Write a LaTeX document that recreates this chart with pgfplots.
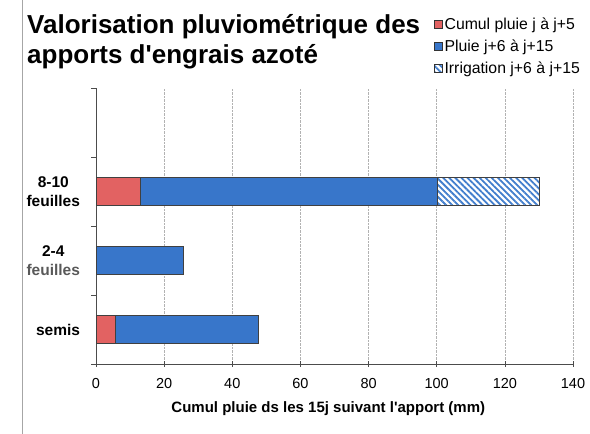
\documentclass[border=0pt]{standalone}
\usepackage{fontspec}
\setmainfont{Liberation Sans}
\usepackage{pgfplots}
\pgfplotsset{compat=1.18}
\usetikzlibrary{patterns.meta}

\definecolor{cumulred}{RGB}{226,98,98}
\definecolor{pluieblue}{RGB}{56,118,202}
\definecolor{irrigblue}{RGB}{66,126,205}

\begin{document}
\begin{tikzpicture}
\useasboundingbox (0,0) rectangle (590bp,434bp);
\draw[gray!70, line width=0.8bp] (22bp,0) -- (22bp,434bp);
\node[anchor=base west, inner sep=0pt,
      font=\bfseries\fontsize{26bp}{32bp}\selectfont] at (27bp,400bp)
  {Valorisation pluviométrique des};
\node[anchor=base west, inner sep=0pt,
      font=\bfseries\fontsize{26bp}{32bp}\selectfont] at (27bp,370bp)
  {apports d\textquotesingle engrais azoté};
\begin{axis}[
    at={(96bp,70bp)}, anchor=south west,
    scale only axis,
    width=477bp, height=276bp,
    xbar stacked,
    bar width=28bp,
    xmin=0, xmax=140,
    ymin=-0.5, ymax=3.5,
    xtick={0,20,...,140},
    ytick={-0.5,0.5,1.5,2.5,3.5},
    yticklabels={},
    extra y ticks={0,1,2},
    extra y tick labels={semis,{2-4\\\textcolor{black!65}{feuilles}},{8-10\\feuilles}},
    extra y tick style={tick style={draw=none},
        yticklabel style={align=center, font=\bfseries\fontsize{15.5bp}{19bp}\selectfont, xshift=-10bp}},
    axis x line*=bottom,
    axis y line*=left,
    axis line style={black!70, line width=0.6bp},
    tick style={black!70, line width=0.6bp},
    y tick style={xshift=-2.5bp},
    major tick length=5bp,
    tick align=center,
    xmajorgrids,
    grid style={black!30, densely dotted, line width=0.5bp},
    /pgf/number format/assume math mode=true,
    xticklabel style={font=\fontsize{14.5bp}{17bp}\selectfont, yshift=-8bp},
    xlabel={Cumul pluie ds les 15j suivant l\textquotesingle apport (mm)},
    xlabel style={font=\bfseries\fontsize{15bp}{17bp}\selectfont,
        at={(axis description cs:0.487,-0.1775)}, anchor=base},
    legend style={draw=none, fill=none, at={(rel axis cs:0.709,1.263)},
        anchor=north west, font=\fontsize{15.8bp}{18bp}\selectfont,
        row sep=5bp, inner sep=0pt, legend cell align=left,
        nodes={inner xsep=1.5bp}},
    legend image code/.code={\draw[#1,draw=black!80,line width=0.7bp] (0bp,-4bp) rectangle (8bp,4bp);},
]
\addplot[fill=cumulred, draw=black!75, line width=0.6bp] coordinates {(5.6,0) (0,1) (13.1,2)};
\addplot[fill=pluieblue, draw=black!75, line width=0.6bp] coordinates {(42.1,0) (25.7,1) (87,2)};
\addplot[fill=white, draw=black!75, line width=0.6bp,
    postaction={pattern={Lines[angle=-45,distance=4.3bp,line width=1.8bp]}, pattern color=irrigblue}]
    coordinates {(0,0) (0,1) (30,2)};
\legend{Cumul pluie j à j+5, Pluie j+6 à j+15, Irrigation j+6 à j+15}
\end{axis}
\end{tikzpicture}
\end{document}
